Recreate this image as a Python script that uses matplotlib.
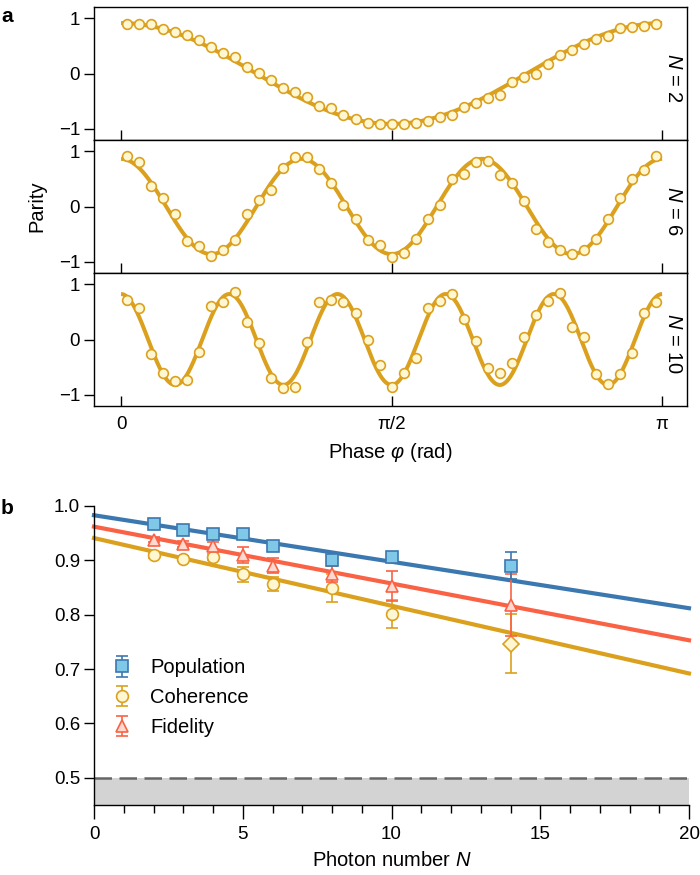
import numpy as np
import matplotlib
matplotlib.use('Agg')
import matplotlib.pyplot as plt
from matplotlib.ticker import MultipleLocator

plt.rcParams['font.family'] = ['Liberation Sans', 'DejaVu Sans']
plt.rcParams['mathtext.fontset'] = 'custom'
plt.rcParams['mathtext.it'] = 'Liberation Sans:italic'
plt.rcParams['mathtext.rm'] = 'Liberation Sans'
plt.rcParams['font.size'] = 13.5

TICK_FS = 13.5
LABEL_FS = 14.5

# ---------------- Panel a data ----------------
n_phase_points = 45
phase = (np.arange(n_phase_points) + 0.5) * np.pi / n_phase_points

parity_N2 = [0.90, 0.89, 0.89, 0.81, 0.75, 0.69, 0.60, 0.48, 0.37, 0.29,
             0.11, 0.01, -0.12, -0.27, -0.33, -0.43, -0.59, -0.63, -0.75, -0.83,
             -0.89, -0.92, -0.92, -0.92, -0.89, -0.86, -0.78, -0.74, -0.61, -0.54,
             -0.45, -0.39, -0.16, -0.06, -0.01, 0.18, 0.34, 0.43, 0.54, 0.63,
             0.67, 0.83, 0.84, 0.86, 0.89]
parity_N6 = [0.91, 0.80, 0.37, 0.16, -0.13, -0.63, -0.72, -0.89, -0.78, -0.60,
             -0.14, 0.11, 0.30, 0.69, 0.89, 0.89, 0.67, 0.43, 0.03, -0.22,
             -0.61, -0.70, -0.92, -0.84, -0.58, -0.22, 0.03, 0.50, 0.59, 0.81,
             0.83, 0.56, 0.43, 0.10, -0.40, -0.64, -0.78, -0.86, -0.78, -0.58,
             -0.23, 0.16, 0.50, 0.66, 0.91]
parity_N10 = [0.71, 0.56, -0.27, -0.60, -0.75, -0.73, -0.23, 0.60, 0.67, 0.86,
              0.31, -0.06, -0.69, -0.87, -0.86, -0.04, 0.67, 0.71, 0.67, 0.47,
              0.00, -0.46, -0.86, -0.60, -0.33, 0.57, 0.69, 0.83, 0.37, -0.02,
              -0.51, -0.60, -0.42, 0.05, 0.45, 0.69, 0.84, 0.23, 0.05, -0.63,
              -0.80, -0.63, -0.25, 0.47, 0.67]
parity_err_N10 = [0.06] * n_phase_points
photon_N_a = [2, 6, 10]
fit_amplitude_a = [0.91, 0.86, 0.82]

# ---------------- Panel b data ----------------
photon_numbers = [2, 3, 4, 5, 6, 8, 10, 14]
population = [0.966, 0.956, 0.949, 0.948, 0.927, 0.901, 0.906, 0.890]
population_err = [0.004, 0.004, 0.004, 0.004, 0.005, 0.006, 0.006, 0.025]
coherence_N = [2, 3, 4, 5, 6, 8, 10]
coherence = [0.910, 0.903, 0.906, 0.874, 0.857, 0.849, 0.802]
coherence_err = [0.005, 0.005, 0.006, 0.013, 0.013, 0.025, 0.026]
coherence_diamond_N = [14]
coherence_diamond = [0.747]
coherence_diamond_err = [0.054]
fidelity = [0.938, 0.930, 0.927, 0.910, 0.890, 0.875, 0.853, 0.817]
fidelity_err = [0.005, 0.006, 0.007, 0.014, 0.014, 0.015, 0.028, 0.057]
fit_intercepts = [0.983, 0.962, 0.941]   # population, fidelity, coherence
fit_slopes = [-0.00855, -0.01045, -0.01245]

GOLD = '#DBA11E'
GOLD_FACE = '#FFF6D2'
BLUE = '#3C78B0'
BLUE_FACE = '#80C8E8'
RED = '#FA6245'
RED_FACE = '#FFD8D0'

fig = plt.figure(figsize=(7, 8.75), dpi=100)

L = 94 / 700
W = 593 / 700
H = 133 / 875
bottoms = [1 - 140 / 875, 1 - 273 / 875, 1 - 406 / 875]
fine_phase = np.linspace(0, np.pi, 600)
datasets = [parity_N2, parity_N6, parity_N10]
axes_a = []
for i, (N, amp, data) in enumerate(zip(photon_N_a, fit_amplitude_a, datasets)):
    ax = fig.add_axes([L, bottoms[i], W, H])
    axes_a.append(ax)
    ax.plot(fine_phase, amp * np.cos(N * fine_phase), color=GOLD, lw=2.9,
            zorder=2, solid_capstyle='butt')
    if N == 10:
        ax.errorbar(phase, data, yerr=parity_err_N10, fmt='none', ecolor=GOLD,
                    elinewidth=1.0, capsize=0, zorder=3)
    ax.plot(phase, data, 'o', ms=7, mfc=GOLD_FACE, mec=GOLD, mew=1.2, zorder=4)
    ax.set_xlim(-0.05 * np.pi, 1.046 * np.pi)
    ax.set_ylim(-1.2, 1.2)
    ax.set_yticks([-1, 0, 1])
    ax.set_yticklabels(['\u22121', '0', '1'])
    ax.set_xticks([0, np.pi / 2, np.pi])
    ax.tick_params(axis='x', direction='in', length=7, width=1.0)
    ax.tick_params(axis='y', direction='out', length=7, width=1.0,
                   labelsize=TICK_FS, pad=3)
    if i < 2:
        ax.set_xticklabels([])
    else:
        ax.set_xticklabels(['0', '\u03c0/2', '\u03c0'], fontsize=TICK_FS)
        ax.tick_params(axis='x', pad=7)
        ax.set_xlabel('Phase $\\mathit{\u03c6}$ (rad)', fontsize=LABEL_FS,
                      labelpad=6)
    for s in ax.spines.values():
        s.set_linewidth(1.0)
    ax.text(0.978, 0.47, '$\\mathit{N}$ = %d' % N, transform=ax.transAxes,
            rotation=270, ha='center', va='center', fontsize=LABEL_FS)

fig.text(37 / 700, 1 - 206 / 875, 'Parity', rotation=90, ha='center',
         va='center', fontsize=LABEL_FS)
fig.text(1 / 700, 1 - 16 / 875, 'a', fontsize=15, fontweight='bold',
         ha='left', va='center')
fig.text(1 / 700, 1 - 508 / 875, 'b', fontsize=15, fontweight='bold',
         ha='left', va='center')

# ---------------- Panel b ----------------
axb = fig.add_axes([L, 1 - 805 / 875, 595 / 700, 299 / 875])
axb.axhspan(0.45, 0.5, color='#D3D3D3', zorder=0, lw=0)
axb.axhline(0.5, color='#666666', lw=1.8, ls=(0, (7, 3)), zorder=1)

Nline = np.linspace(0, 20, 100)
line_colors = [BLUE, RED, GOLD]
for b0, m, c in zip(fit_intercepts, fit_slopes, line_colors):
    axb.plot(Nline, b0 + m * Nline, color=c, lw=3, zorder=2, clip_on=False)

axb.errorbar(coherence_N, coherence, yerr=coherence_err, fmt='o', ms=8.5,
             mfc=GOLD_FACE, mec=GOLD, mew=1.2, ecolor=GOLD, elinewidth=1.2,
             capsize=4, capthick=1.2, zorder=3, label='Coherence')
axb.errorbar(coherence_diamond_N, coherence_diamond, yerr=coherence_diamond_err,
             fmt='D', ms=8, mfc=GOLD_FACE, mec=GOLD, mew=1.2, ecolor=GOLD,
             elinewidth=1.2, capsize=4, capthick=1.2, zorder=3)
axb.errorbar(photon_numbers, fidelity, yerr=fidelity_err, fmt='^', ms=8.5,
             mfc=RED_FACE, mec=RED, mew=1.2, ecolor=RED, elinewidth=1.2,
             capsize=4, capthick=1.2, zorder=4, label='Fidelity')
axb.errorbar(photon_numbers, population, yerr=population_err, fmt='s', ms=8,
             mfc=BLUE_FACE, mec=BLUE, mew=1.2, ecolor=BLUE, elinewidth=1.2,
             capsize=4, capthick=1.2, zorder=5, label='Population')

axb.set_xlim(0, 20)
axb.set_ylim(0.45, 1.0)
axb.spines['top'].set_visible(False)
axb.spines['right'].set_visible(False)
for s in ['left', 'bottom']:
    axb.spines[s].set_linewidth(1.0)
axb.set_yticks([0.5, 0.6, 0.7, 0.8, 0.9, 1.0])
axb.set_yticklabels(['0.5', '0.6', '0.7', '0.8', '0.9', '1.0'])
axb.xaxis.set_major_locator(MultipleLocator(5))
axb.xaxis.set_minor_locator(MultipleLocator(1))
axb.tick_params(axis='x', which='major', direction='out', length=10, width=1.0,
                labelsize=TICK_FS, pad=5)
axb.tick_params(axis='x', which='minor', direction='out', length=6, width=1.0)
axb.tick_params(axis='y', direction='out', length=7, width=1.0,
                labelsize=TICK_FS, pad=3)
axb.set_xlabel('Photon number $\\mathit{N}$', fontsize=LABEL_FS, labelpad=6)

handles, labels = axb.get_legend_handles_labels()
order = [labels.index('Population'), labels.index('Coherence'), labels.index('Fidelity')]
axb.legend([handles[k] for k in order], [labels[k] for k in order],
           loc='upper left', bbox_to_anchor=(0.03, 0.49), frameon=False,
           fontsize=LABEL_FS, handlelength=1.0, handletextpad=0.9,
           labelspacing=0.53, borderaxespad=0, borderpad=0)

fig.savefig('out.png', dpi=100)
